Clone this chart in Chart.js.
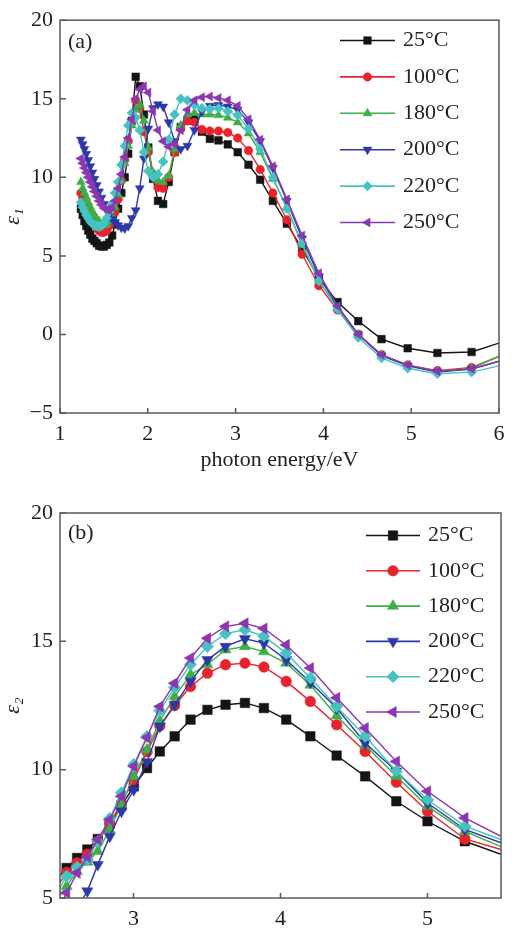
<!DOCTYPE html>
<html lang="en">
<head>
<meta charset="UTF-8">
<title>Dielectric function vs photon energy</title>
<script src="https://cdn.jsdelivr.net/npm/chart.js"></script>
<style>
    html, body { margin: 0; padding: 0; background: #fff; }
    body { width: 526px; height: 930px; position: relative; overflow: hidden; }
    .panel { position: absolute; left: 0; width: 526px; }
    #panelA { top: 0; height: 475px; }
    #panelB { top: 475px; height: 455px; }
</style>
</head>
<body>
<div class="panel" id="panelA"><canvas id="chartA"></canvas></div>
<div class="panel" id="panelB"><canvas id="chartB"></canvas></div>

<script>
// series names (annealing temperature)
const seriesLabels = ['25°C', '100°C', '180°C', '200°C', '220°C', '250°C'];

// ---- panel (a): real part eps1 ----
const energyA = [1.238, 1.258, 1.278, 1.300, 1.322, 1.345, 1.369, 1.393, 1.419, 1.445,
                 1.473, 1.501, 1.531, 1.562, 1.594, 1.627, 1.662, 1.699, 1.737, 1.777,
                 1.818, 1.862, 1.908, 1.956, 2.006, 2.060, 2.116, 2.175, 2.238, 2.305,
                 2.375, 2.451, 2.531, 2.616, 2.707, 2.805, 2.911, 3.024, 3.147, 3.280,
                 3.425, 3.584, 3.758, 3.949, 4.161, 4.397, 4.662, 4.960, 5.299, 5.688, 6.000];
const eps1_25 = [8.0, 7.6, 7.2, 6.9, 6.6, 6.35, 6.1, 5.95, 5.8, 5.65,
                 5.6, 5.6, 5.7, 5.85, 6.3, 7.0, 8.0, 9.0, 10.0, 11.5,
                 13.6, 16.4, 15.8, 14.0, 11.9, 9.9, 8.5, 8.3, 9.7, 11.6,
                 13.2, 13.6, 13.7, 12.9, 12.45, 12.35, 12.1, 11.6, 10.8, 9.85,
                 8.5, 7.05, 5.45, 3.6, 2.06, 0.85, -0.3, -0.88, -1.18, -1.12, -0.55];
const eps1_100 = [9.0, 8.7, 8.4, 8.1, 7.8, 7.5, 7.2, 7.0, 6.8, 6.6,
                  6.5, 6.5, 6.6, 6.9, 7.3, 7.8, 8.6, 9.8, 11.1, 12.3,
                  13.5, 14.9, 14.4, 12.9, 11.6, 10.2, 9.35, 9.3, 10.0, 11.6,
                  13.1, 13.6, 13.5, 13.05, 12.95, 12.95, 12.85, 12.5, 11.7, 10.5,
                  9.0, 7.3, 5.1, 3.1, 1.55, 0.0, -1.3, -1.95, -2.3, -2.1, -1.4];
const eps1_180 = [9.7, 9.3, 9.0, 8.7, 8.4, 8.1, 7.8, 7.6, 7.35, 7.2,
                  7.0, 6.95, 7.0, 7.2, 7.5, 8.1, 8.9, 9.8, 10.9, 12.0,
                  13.3, 14.3, 14.6, 13.6, 11.9, 10.3, 9.8, 9.7, 10.1, 11.8,
                  13.3, 14.0, 14.1, 14.0, 14.0, 13.95, 13.8, 13.5, 12.8, 11.6,
                  9.9, 8.1, 5.7, 3.4, 1.7, 0.0, -1.3, -1.95, -2.35, -2.15, -1.4];
const eps1_200 = [12.4, 12.1, 11.8, 11.5, 11.1, 10.7, 10.3, 9.9, 9.5, 9.1,
                  8.7, 8.3, 7.9, 7.6, 7.35, 7.15, 6.95, 6.8, 6.75, 6.9,
                  7.4, 7.9, 9.3, 11.2, 13.1, 14.4, 14.65, 14.5, 13.5, 12.3,
                  11.8, 12.0, 13.0, 14.2, 14.55, 14.6, 14.5, 14.3, 13.5, 12.3,
                  10.6, 8.5, 6.1, 3.7, 1.8, 0.0, -1.35, -2.0, -2.4, -2.2, -1.7];
const eps1_220 = [8.4, 8.1, 7.85, 7.6, 7.4, 7.2, 7.05, 6.95, 6.9, 6.85,
                  6.9, 7.1, 7.4, 7.8, 8.3, 9.0, 9.7, 10.8, 12.0, 13.3,
                  14.1, 13.8, 13.0, 11.6, 10.4, 10.0, 10.2, 11.0, 12.4, 14.0,
                  15.0, 14.9, 14.6, 14.4, 14.35, 14.4, 14.2, 13.95, 13.1, 11.8,
                  10.0, 8.0, 5.8, 3.4, 1.6, -0.2, -1.5, -2.15, -2.5, -2.4, -2.0];
const eps1_250 = [11.2, 10.9, 10.6, 10.3, 10.0, 9.7, 9.4, 9.1, 8.8, 8.5,
                  8.25, 8.05, 7.95, 7.9, 8.1, 8.5, 9.3, 10.2, 11.3, 12.5,
                  13.7, 15.0, 15.6, 15.8, 15.4, 14.2, 13.0, 12.3, 11.95, 12.1,
                  13.0, 14.3, 14.9, 15.1, 15.15, 15.05, 14.9, 14.55, 13.7, 12.4,
                  10.7, 8.6, 6.3, 3.9, 1.8, 0.0, -1.3, -1.95, -2.35, -2.2, -1.7];
const ticksAX = [1, 2, 3, 4, 5, 6];
const ticksAY = [-5, 0, 5, 10, 15, 20];

// ---- panel (b): imaginary part eps2 ----
const energyB = [2.500, 2.545, 2.616, 2.686, 2.757, 2.838, 2.918, 3.002, 3.092, 3.179,
                 3.280, 3.388, 3.503, 3.626, 3.758, 3.887, 4.039, 4.203, 4.382, 4.576,
                 4.788, 5.000, 5.254, 5.500];
const eps2_25 = [5.9, 6.17, 6.56, 6.89, 7.3, 7.9, 8.6, 9.35, 10.06, 10.71,
                 11.3, 11.95, 12.33, 12.53, 12.6, 12.4, 11.95, 11.3, 10.55, 9.74,
                 8.77, 7.99, 7.21, 6.7];
const eps2_100 = [5.6, 6.0, 6.37, 6.7, 7.2, 7.9, 8.7, 9.6, 10.7, 11.7,
                  12.5, 13.24, 13.76, 14.09, 14.15, 14.0, 13.44, 12.66, 11.75, 10.71,
                  9.51, 8.38, 7.3, 6.89];
const eps2_180 = [5.1, 5.46, 6.04, 6.4, 6.82, 7.66, 8.64, 9.74, 10.78, 11.9,
                  12.85, 13.7, 14.1, 14.67, 14.8, 14.6, 14.15, 13.3, 12.1, 10.95,
                  9.74, 8.57, 7.6, 7.0];
const eps2_200 = [3.6, 4.0, 4.6, 5.27, 6.3, 7.4, 8.38, 9.22, 10.3, 11.69,
                  12.53, 13.44, 14.28, 14.8, 15.1, 14.93, 14.28, 13.4, 12.4, 11.04,
                  9.94, 8.7, 7.67, 7.15];
const eps2_220 = [5.4, 5.85, 6.2, 6.5, 7.2, 8.1, 9.1, 10.2, 11.3, 12.3,
                  13.2, 14.1, 14.8, 15.3, 15.45, 15.2, 14.54, 13.57, 12.46, 11.3,
                  9.94, 8.83, 7.8, 7.28];
const eps2_250 = [4.7, 5.2, 5.98, 6.6, 7.28, 8.05, 8.96, 10.13, 11.25, 12.46,
                  13.37, 14.35, 15.12, 15.58, 15.7, 15.5, 14.86, 13.96, 12.8, 11.62,
                  10.32, 9.16, 8.12, 7.4];
const ticksBX = [3, 4, 5];
const ticksBY = [5, 10, 15, 20];

// look of the six series
const colors = ['#151515', '#e8232d', '#3caf46', '#2d37a5', '#45c3c3', '#8c37af'];
const markers = [
    { pointStyle: 'rect', rotation: 0, size: 4.8 },
    { pointStyle: 'circle', rotation: 0, size: 3.8 },
    { pointStyle: 'triangle', rotation: 0, size: 4.6 },
    { pointStyle: 'triangle', rotation: 180, size: 4.6 },
    { pointStyle: 'rectRot', rotation: 0, size: 4.4 },
    { pointStyle: 'triangle', rotation: 270, size: 4.6 }
];

const SERIF = '"Liberation Serif", "DejaVu Serif", serif';
const TEXT = '#222';

// frame, inward ticks, panel label and line+marker legend
const framePlugin = {
    id: 'frame',
    afterDatasetsDraw(chart, args, opts) {
        const { ctx, chartArea: a } = chart;
        const xs = chart.scales.x, ys = chart.scales.y;
        ctx.save();
        ctx.strokeStyle = '#5a5a5a';
        ctx.lineWidth = 1.5;
        ctx.strokeRect(a.left, a.top, a.right - a.left, a.bottom - a.top);
        ctx.beginPath();
        xs.ticks.forEach(t => {
            const p = xs.getPixelForValue(t.value);
            ctx.moveTo(p, a.bottom);
            ctx.lineTo(p, a.bottom - 5);
        });
        ys.ticks.forEach(t => {
            const p = ys.getPixelForValue(t.value);
            ctx.moveTo(a.left, p);
            ctx.lineTo(a.left + 6, p);
        });
        ctx.stroke();

        ctx.font = '22px ' + SERIF;
        ctx.textBaseline = 'middle';
        ctx.textAlign = 'left';
        ctx.fillStyle = TEXT;
        ctx.fillText(opts.label, a.left + 8, a.top + opts.labelDy);

        chart.data.datasets.forEach((ds, i) => {
            const y = opts.legY + i * opts.legDy;
            ctx.strokeStyle = ds.borderColor;
            ctx.lineWidth = 1.6;
            ctx.beginPath();
            ctx.moveTo(opts.legX1, y);
            ctx.lineTo(opts.legX2, y);
            ctx.stroke();
            ctx.fillStyle = ds.borderColor;
            ctx.lineWidth = 0.5;
            Chart.helpers.drawPoint(ctx, {
                pointStyle: ds.pointStyle,
                rotation: ds.pointRotation,
                radius: ds.markerSize,
                borderWidth: 0.5
            }, (opts.legX1 + opts.legX2) / 2, y);
            ctx.fillStyle = TEXT;
            ctx.fillText(ds.label, opts.legTextX, y);
        });
        ctx.restore();
    }
};

function buildDatasets(energies, seriesValues, scale, firstMarker, lastMarker) {
    return seriesValues.map((vals, i) => {
        const m = markers[i];
        const r = m.size * scale;
        return {
            label: seriesLabels[i],
            data: energies.map((e, k) => ({ x: e, y: vals[k] })),
            borderColor: colors[i],
            backgroundColor: colors[i],
            pointBackgroundColor: colors[i],
            pointBorderColor: colors[i],
            borderWidth: 1.4,
            pointBorderWidth: 0.5,
            pointStyle: m.pointStyle,
            pointRotation: m.rotation,
            markerSize: r,
            pointRadius: ctx => (ctx.dataIndex < firstMarker || ctx.dataIndex > lastMarker) ? 0 : r,
            tension: 0,
            order: seriesValues.length - 1 - i
        };
    });
}

function makePanel(canvasId, cfg) {
    return new Chart(document.getElementById(canvasId), {
        type: 'line',
        data: { datasets: cfg.datasets },
        options: {
            responsive: true,
            maintainAspectRatio: false,
            animation: false,
            events: [],
            layout: { padding: cfg.padding },
            plugins: {
                legend: { display: false },
                tooltip: { enabled: false },
                frame: cfg.frame
            },
            scales: {
                x: {
                    type: 'linear',
                    min: cfg.xMin, max: cfg.xMax,
                    afterBuildTicks: s => { s.ticks = cfg.xTicks.map(v => ({ value: v })); },
                    afterFit: s => { s.height = cfg.xHeight; },
                    grid: { display: false, drawTicks: false },
                    border: { display: false },
                    ticks: { color: TEXT, padding: cfg.xPad, font: { family: SERIF, size: 22 } },
                    title: cfg.xTitle
                },
                y: {
                    type: 'linear',
                    min: cfg.yMin, max: cfg.yMax,
                    afterBuildTicks: s => { s.ticks = cfg.yTicks.map(v => ({ value: v })); },
                    afterFit: s => { s.width = 60; },
                    grid: { display: false, drawTicks: false },
                    border: { display: false },
                    ticks: {
                        color: TEXT, padding: 7,
                        font: { family: SERIF, size: 22 },
                        callback: v => String(v).replace('-', '\u2212')
                    },
                    title: {
                        display: true, text: cfg.yTitle, color: TEXT,
                        padding: { top: 0, bottom: 0 },
                        font: { family: SERIF, size: 22, style: 'italic' }
                    }
                }
            }
        },
        plugins: [framePlugin]
    });
}

makePanel('chartA', {
    datasets: buildDatasets(energyA, [eps1_25, eps1_100, eps1_180, eps1_200, eps1_220, eps1_250], 1.12, 0, energyA.length - 2),
    padding: { top: 19, right: 27, left: 0, bottom: 0 },
    xMin: 1, xMax: 6, yMin: -5, yMax: 20,
    xTicks: ticksAX, yTicks: ticksAY,
    xHeight: 62, xPad: 8,
    xTitle: {
        display: true, text: 'photon energy/eV', color: TEXT,
        padding: { top: 0, bottom: 2 },
        font: { family: SERIF, size: 22 }
    },
    yTitle: 'ε\u2081',
    frame: { label: '(a)', labelDy: 22, legX1: 340, legX2: 395, legTextX: 403, legY: 40.5, legDy: 36.4 }
});

makePanel('chartB', {
    datasets: buildDatasets(energyB, [eps2_25, eps2_100, eps2_180, eps2_200, eps2_220, eps2_250], 1.4, 1, energyB.length - 2),
    padding: { top: 38, right: 25, left: 0, bottom: 0 },
    xMin: 2.5, xMax: 5.5, yMin: 5, yMax: 20,
    xTicks: ticksBX, yTicks: ticksBY,
    xHeight: 32, xPad: 8,
    xTitle: { display: false },
    yTitle: 'ε\u2082',
    frame: { label: '(b)', labelDy: 20, legX1: 366, legX2: 420, legTextX: 428, legY: 60.5, legDy: 35.3 }
});
</script>
</body>
</html>
